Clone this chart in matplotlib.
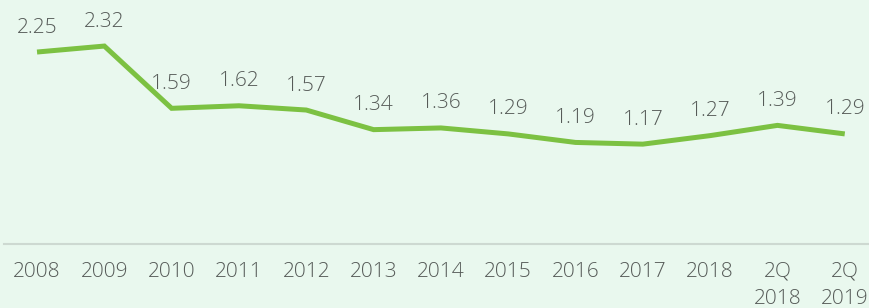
import matplotlib.pyplot as plt

# Data
categories = ['2008', '2009', '2010', '2011', '2012', '2013', '2014', '2015',
              '2016', '2017', '2018', '2Q\n2018', '2Q\n2019']
values = [2.25, 2.32, 1.59, 1.62, 1.57, 1.34, 1.36, 1.29, 1.19, 1.17, 1.27, 1.39, 1.29]
value_labels = ['2.25', '2.32', '1.59', '1.62', '1.57', '1.34', '1.36', '1.29',
                '1.19', '1.17', '1.27', '1.39', '1.29']

bg_color = '#e9f8ee'
line_color = '#7cc142'
text_color = '#565b58'

plt.rcParams['font.family'] = ['Open Sans', 'DejaVu Sans']

fig = plt.figure(figsize=(8.69, 3.08), dpi=100)
fig.patch.set_facecolor(bg_color)
ax = fig.add_axes([0, 0.208, 1, 0.792])
ax.set_facecolor(bg_color)

x = list(range(len(categories)))
ax.plot(x, values, color=line_color, linewidth=3.6, solid_capstyle='butt', solid_joinstyle='miter')

# Value labels above each point
for xi, v, lab in zip(x, values, value_labels):
    ax.annotate(lab, (xi, v), xytext=(0, 14), textcoords='offset points',
                ha='center', va='baseline', fontsize=15, fontweight='light',
                color=text_color)

ax.set_xlim(-0.55, 12.36)
ax.set_ylim(0, 2.86)

ax.set_xticks(x)
ax.set_xticklabels(categories, fontsize=15, fontweight='light', color=text_color,
                   linespacing=1.45)
ax.tick_params(axis='x', length=0, pad=13)
ax.set_yticks([])

for side in ['top', 'right', 'left']:
    ax.spines[side].set_visible(False)
ax.spines['bottom'].set_color('#cdd9d1')
ax.spines['bottom'].set_linewidth(1.5)
ax.spines['bottom'].set_bounds(-0.49, 12.36)

plt.savefig('out.png', dpi=100, facecolor=bg_color)
